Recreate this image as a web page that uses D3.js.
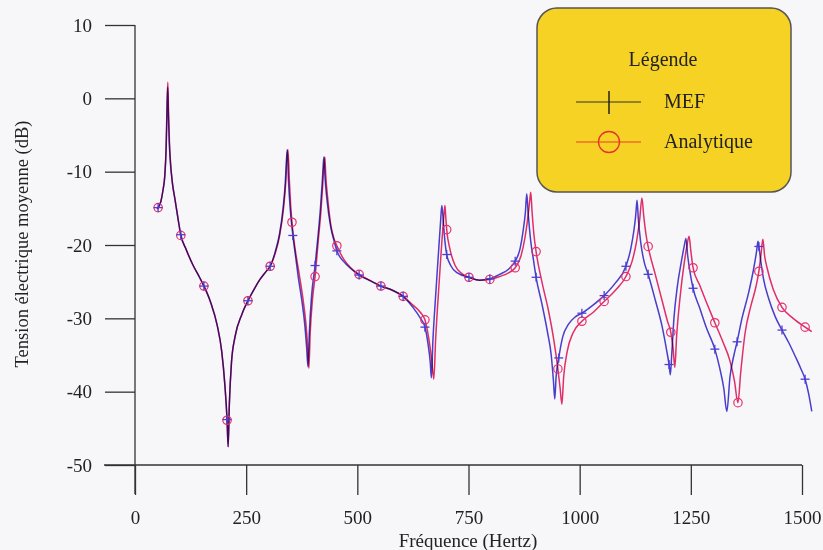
<!DOCTYPE html>
<html>
<head>
<meta charset="utf-8">
<script src="https://cdn.jsdelivr.net/npm/d3@7"></script>
<style>
  html, body { margin: 0; padding: 0; background: #f7f7fa; }
  svg { display: block; font-family: "Liberation Serif", "DejaVu Serif", serif; }
  .curve { mix-blend-mode: multiply; }
</style>
</head>
<body>
<svg id="chart" width="823" height="550"></svg>
<script>
// ---------- data ----------
const xTicks = [0, 250, 500, 750, 1000, 1250, 1500];
const yTicks = [10, 0, -10, -20, -30, -40, -50];
const seriesNames = ["MEF", "Analytique"];

// MEF (finite elements) curve: frequency (Hz) and level (dB)
const mefFreq = [50,52,58,63,67,70,72,73.5,75,77,79,84,90,97,103,115,130,145,155,170,185,195,202,207,209.5,212,217,225,240,254,270,280,295,304,315,325,333,338,341,342.5,345,349,355,361,367,375,382,386,389,392,397,405,412,417,421,424,425,427,432,440,447,454,470,485,504,530,553,580,603,625,642,652,659,664,666.5,670,676,682,687,690,693,697,701,710,725,751,775,798,820,840,855,866,873,878,881,884,890,896,902,915,928,936,941,944,947,953,962,975,990,1005,1030,1055,1080,1104,1115,1122,1126,1129,1132,1137,1145,1154,1170,1185,1196,1201,1204,1207,1212,1220,1228,1235,1239,1243,1249,1255,1270,1285,1304,1315,1324,1331,1338,1347,1354,1365,1380,1392,1398,1401,1403,1408,1414,1425,1440,1455,1470,1485,1497,1507,1515,1522];
const mefDb = [-15.1,-14.9,-14.1,-12.5,-10.6,-7,-2,1.5,-2,-6,-8.3,-11.5,-13.8,-16.5,-18.6,-20.6,-22.7,-24.4,-25.6,-27.8,-31,-34.5,-39,-43.8,-47.5,-42,-36,-32.5,-29.5,-27.6,-25.8,-24.8,-23.6,-22.9,-21,-18.5,-15,-11.5,-8,-7.0,-11,-15,-18.7,-21.5,-24.3,-27.5,-31,-34,-36.6,-32,-27,-22.8,-18.5,-15,-11.5,-8.5,-8.0,-10.5,-14,-17.5,-19.3,-20.8,-22.3,-23.2,-24.1,-24.9,-25.6,-26.2,-27.0,-28.5,-30,-31.2,-33.5,-36,-38.1,-33,-27,-21.5,-17,-14.6,-16.5,-19.5,-21.3,-22.8,-23.8,-24.4,-24.8,-24.6,-24,-23.3,-22.2,-20.5,-18,-15.5,-13.0,-15.5,-19.5,-22,-24.4,-28,-32,-35,-38.5,-41,-38,-35.4,-32.5,-30.8,-29.8,-29.3,-28.2,-26.9,-25.2,-22.9,-20.5,-18,-16,-13.9,-16.5,-19.5,-22.3,-24.0,-27.5,-31,-34.5,-36.3,-37.7,-35,-30,-25.5,-22.5,-20.2,-19.1,-21.5,-24,-25.9,-28.6,-31.3,-34.2,-36.8,-39.5,-42.7,-38,-35,-33.2,-30,-26.5,-23,-20.8,-19.5,-20.2,-22.5,-24.8,-27.3,-29.8,-31.6,-33.3,-35.2,-36.8,-38.3,-40.3,-42.7];

// Analytical curve
const anaFreq = [50,52,58,63,67,70,72,73.8,75.5,77.5,79.5,84,90,97,103,115,130,145,155,170,185,195,202,207,209.5,212,217,225,240,254,270,280,295,304,315,325,334,339,342,344,347,350,353,360,368,377,384,388,391,394,399,405,412,418,422,425,427,429,434,441,448,454,470,485,504,530,553,580,603,625,642,652,660,667,672,676,683,689,694,697,699,701,708,720,735,751,775,798,820,840,855,868,877,884,888,890,893,897,902,915,930,942,951,956,960,964,972,985,1005,1030,1055,1080,1104,1118,1128,1135,1140,1144,1149,1154,1170,1185,1198,1205,1210,1214,1218,1226,1235,1241,1246,1250,1255,1270,1285,1304,1322,1338,1348,1356,1362,1372,1385,1396,1403,1408,1412,1416,1421,1435,1455,1480,1507,1522];
const anaDb = [-15.1,-14.9,-14.1,-12.5,-10.5,-6.5,-1,2.2,-2,-6,-8.3,-11.5,-13.8,-16.5,-18.7,-20.6,-22.7,-24.4,-25.6,-27.8,-31,-34.5,-39,-43.9,-47.5,-42,-36,-32.5,-29.5,-27.6,-25.8,-24.8,-23.6,-22.9,-21.2,-18.8,-15,-11.5,-8,-7.0,-11,-14.5,-16.9,-20.5,-23.5,-27,-30.5,-33.5,-36.8,-32,-27.5,-24.3,-19.5,-15.5,-12,-9,-8.0,-10.5,-14,-17.5,-19.2,-20.1,-22,-23.1,-24.0,-24.9,-25.6,-26.2,-27.0,-28.2,-29.2,-30.2,-32.5,-35.5,-38.3,-33,-26,-20.5,-16.5,-14.6,-16.3,-17.9,-20.5,-22.8,-23.9,-24.4,-24.8,-24.7,-24.3,-23.8,-23.1,-21.5,-19,-16,-13.8,-12.8,-15.5,-18.5,-20.9,-25,-29,-33,-36.9,-39.5,-41.7,-38,-34.5,-32,-30.4,-29.2,-27.7,-26.2,-24.3,-22.2,-19.5,-16.5,-13.6,-16,-18.5,-20.2,-24,-27.5,-30.5,-31.9,-34,-36.7,-32.5,-27,-22.5,-20.2,-18.8,-20.8,-23.1,-25.5,-27.8,-30.6,-33.2,-35.8,-38.5,-41.5,-37.5,-32,-28.3,-25.8,-23.6,-21.2,-19.2,-21.5,-23,-26,-28.5,-30,-31.2,-31.8];

// Marker positions
const mefMarkFreq = [52,103,155,207,254,304,355,405,454,504,553,603,652,701,751,798,855,902,953,1005,1055,1104,1154,1201,1255,1304,1354,1403,1455,1507];
const mefMarkDb = [-14.9,-18.6,-25.6,-43.8,-27.6,-22.9,-18.7,-22.8,-20.8,-24.1,-25.6,-27.0,-31.2,-21.3,-24.4,-24.6,-22.2,-24.4,-35.4,-29.3,-26.9,-22.9,-24.0,-36.3,-25.9,-34.2,-33.2,-20.2,-31.6,-38.3];
const anaMarkFreq = [52,103,155,207,254,304,353,405,454,504,553,603,652,701,751,798,855,902,951,1005,1055,1104,1154,1205,1255,1304,1356,1403,1455,1507];
const anaMarkDb = [-14.9,-18.7,-25.6,-43.9,-27.6,-22.9,-16.9,-24.3,-20.1,-24.0,-25.6,-27.0,-30.2,-17.9,-24.4,-24.7,-23.1,-20.9,-36.9,-30.4,-27.7,-24.3,-20.2,-31.9,-23.1,-30.6,-41.5,-23.6,-28.5,-31.2];

// ---------- drawing ----------
const svg = d3.select("#chart");
const x = d3.scaleLinear().domain([0, 1500]).range([135, 802]);
const y = d3.scaleLinear().domain([-50, 10]).range([465, 25]);

const blue = "#4b3fcf", red = "#e8306a";
const fmt = d => String(d);

// y axis
const yAxis = d3.axisLeft(y).tickValues(yTicks).tickSize(30).tickPadding(13).tickFormat(fmt);
const gy = svg.append("g").attr("transform", `translate(${x(0)},0)`).call(yAxis);
gy.select(".domain").remove();
gy.selectAll("line").attr("stroke", "#333").attr("stroke-width", 1.3);
gy.selectAll("text").attr("font-size", 19).attr("fill", "#222").attr("font-family", "Liberation Serif");
gy.append("line").attr("x1", 0).attr("x2", 0).attr("y1", y(10)).attr("y2", y(-50) + 29)
  .attr("stroke", "#333").attr("stroke-width", 1.3);

// x axis
const xAxis = d3.axisBottom(x).tickValues(xTicks).tickSize(30).tickPadding(16).tickFormat(fmt);
const gx = svg.append("g").attr("transform", "translate(0,465)").call(xAxis);
gx.select(".domain").remove();
gx.selectAll("line").attr("stroke", "#333").attr("stroke-width", 1.3);
gx.selectAll("text").attr("font-size", 19).attr("fill", "#222").attr("font-family", "Liberation Serif");
gx.append("line").attr("x1", 104).attr("x2", x(1500)).attr("y1", 0).attr("y2", 0)
  .attr("stroke", "#333").attr("stroke-width", 1.3);

// axis titles
svg.append("text").attr("x", 468).attr("y", 547).attr("text-anchor", "middle")
  .attr("font-size", 19).attr("fill", "#222").text("Fréquence (Hertz)");
svg.append("text").attr("transform", "translate(28,244) rotate(-90)").attr("text-anchor", "middle")
  .attr("font-size", 18.5).attr("fill", "#222").text("Tension électrique moyenne (dB)");

// curves
const line = d3.line().x(d => x(d[0])).y(d => y(d[1])).curve(d3.curveMonotoneX);
const anaPts = anaFreq.map((f, i) => [f, anaDb[i]]);
const mefPts = mefFreq.map((f, i) => [f, mefDb[i]]);
svg.append("path").attr("class", "curve").datum(anaPts).attr("d", line)
  .attr("fill", "none").attr("stroke", red).attr("stroke-width", 1.5);
svg.append("path").attr("class", "curve").datum(mefPts).attr("d", line)
  .attr("fill", "none").attr("stroke", blue).attr("stroke-width", 1.5);

// markers
svg.append("g").selectAll("circle").data(anaMarkFreq.map((f, i) => [f, anaMarkDb[i]])).join("circle")
  .attr("cx", d => x(d[0])).attr("cy", d => y(d[1])).attr("r", 4.2)
  .attr("fill", "none").attr("stroke", red).attr("stroke-width", 1.2);
const plus = svg.append("g").selectAll("g").data(mefMarkFreq.map((f, i) => [f, mefMarkDb[i]])).join("g")
  .attr("transform", d => `translate(${x(d[0])},${y(d[1])})`);
plus.append("line").attr("x1", -4.5).attr("x2", 4.5).attr("stroke", blue).attr("stroke-width", 1.3);
plus.append("line").attr("y1", -4.5).attr("y2", 4.5).attr("stroke", blue).attr("stroke-width", 1.3);

// legend
const lg = svg.append("g");
lg.append("rect").attr("x", 537).attr("y", 8).attr("width", 254).attr("height", 184).attr("rx", 20)
  .attr("fill", "#f6d225").attr("stroke", "#555").attr("stroke-width", 1.5);
lg.append("text").attr("x", 663).attr("y", 66).attr("text-anchor", "middle")
  .attr("font-size", 20).attr("fill", "#222").text("Légende");
lg.append("line").attr("x1", 576).attr("x2", 641).attr("y1", 102).attr("y2", 102).attr("stroke", "#333").attr("stroke-width", 1.2);
lg.append("line").attr("x1", 609).attr("x2", 609).attr("y1", 91).attr("y2", 114).attr("stroke", "#222").attr("stroke-width", 1.5);
lg.append("text").attr("x", 664).attr("y", 108).attr("font-size", 20).attr("fill", "#222").text(seriesNames[0]);
lg.append("line").attr("x1", 576).attr("x2", 641).attr("y1", 142).attr("y2", 142).attr("stroke", "#e8402a").attr("stroke-width", 1.2);
lg.append("circle").attr("cx", 609).attr("cy", 142).attr("r", 10.5).attr("fill", "none").attr("stroke", "#e8302a").attr("stroke-width", 1.3);
lg.append("text").attr("x", 664).attr("y", 148).attr("font-size", 20).attr("fill", "#222").text(seriesNames[1]);
</script>
</body>
</html>
